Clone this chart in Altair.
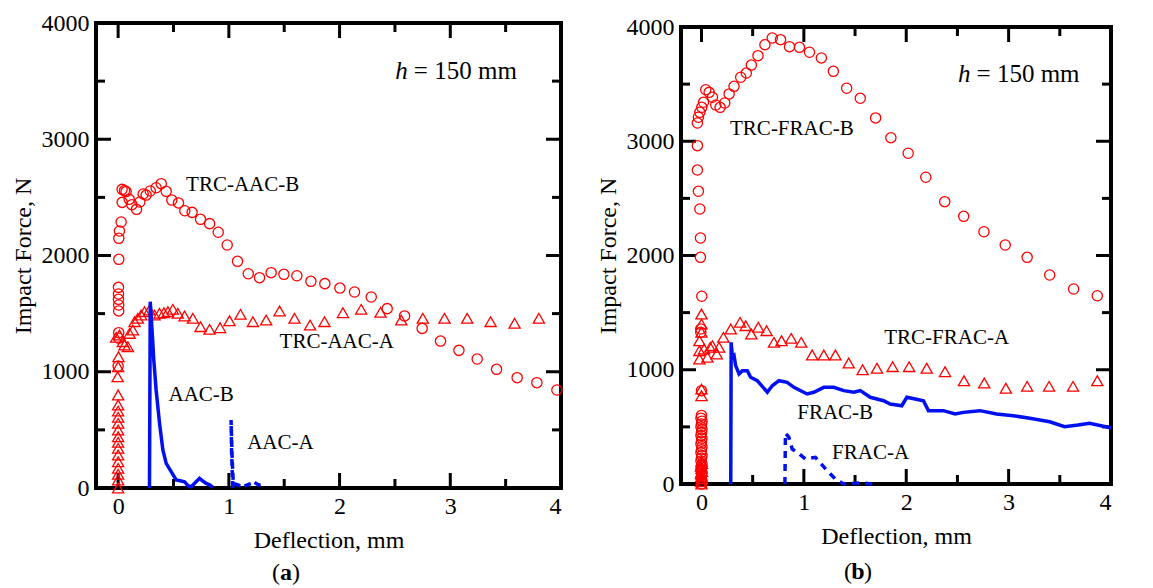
import altair as alt
import pandas as pd

FONT = "Liberation Serif"
RED = "#ff0000"
BLUE = "#0010f0"

# ---------------- Panel (a) ----------------
a_trcB_x = [0.0, 0.005, 0.005, 0.005, 0.005, 0.003, 0.003, 0.003, 0.006, 0.006, 0.012, 0.027, 0.036,
            0.036, 0.058, 0.072, 0.10, 0.124, 0.166, 0.196, 0.226, 0.253, 0.29, 0.343, 0.389, 0.434,
            0.485, 0.545, 0.602, 0.668, 0.744, 0.826, 0.904, 0.985, 1.078, 1.175, 1.277, 1.382, 1.497,
            1.614, 1.741, 1.867, 2.003, 2.135, 2.286, 2.43, 2.587, 2.746, 2.912, 3.078, 3.243, 3.418,
            3.604, 3.782, 3.963]
a_trcB_y = [1049, 1288, 1336, 1523, 1574, 1623, 1669, 1726, 1967, 2148, 2211, 2288, 2457,
            2569, 2558, 2549, 2483, 2437, 2397, 2460, 2529, 2520, 2555, 2583, 2618, 2552,
            2477, 2452, 2385, 2371, 2311, 2274, 2200, 2090, 1950, 1843, 1809, 1852, 1838,
            1826, 1778, 1758, 1720, 1686, 1643, 1543, 1480, 1373, 1264, 1184, 1110, 1021,
            949, 906, 843]

a_trcA_x = [0.0, 0.0, 0.0, 0.0, 0.0, 0.0, 0.0, 0.0, 0.0, 0.0, 0.0, 0.0, 0.0, 0.0, 0.0, -0.005, 0.0, 0.003,
            -0.018, 0.012, 0.042, 0.058, 0.088, 0.103, 0.133, 0.148, 0.178, 0.208, 0.238, 0.283, 0.329,
            0.374, 0.413, 0.449, 0.494, 0.539, 0.6, 0.675, 0.744, 0.826, 0.921, 1.006, 1.105, 1.217,
            1.337, 1.458, 1.593, 1.734, 1.864, 2.03, 2.195, 2.37, 2.557, 2.752, 2.948, 3.153, 3.364,
            3.581, 3.8]
a_trcA_y = [0, 69, 118, 169, 226, 284, 341, 393, 441, 499, 556, 608, 662, 714, 800, 957, 1043, 1129,
            1296, 1316, 1259, 1230, 1216, 1330, 1359, 1431, 1460, 1488, 1517, 1531, 1488,
            1503, 1508, 1517, 1537, 1503, 1480, 1460, 1388, 1365, 1379, 1439, 1494, 1431,
            1445, 1523, 1460, 1402, 1431, 1508, 1537, 1511, 1445, 1460, 1460, 1460, 1431,
            1417, 1460]

a_aacB_x = [0.283, 0.29, 0.31, 0.322, 0.343, 0.374, 0.404, 0.434, 0.479, 0.524, 0.56, 0.6, 0.63, 0.66,
            0.70, 0.735, 0.765, 0.795, 0.83, 0.855]
a_aacB_y = [0, 1603, 1300, 1101, 843, 556, 327, 212, 140, 69, 63, 54, 20, 11, 50, 83, 60, 40, 25, 6]

a_aacA_x = [1.035, 1.025, 1.02, 1.03, 1.04, 1.07, 1.10, 1.14, 1.19, 1.23, 1.27, 1.32]
a_aacA_y = [0, 300, 585, 250, 40, 30, 20, 15, 35, 50, 25, 35]

a_lab_text = ["TRC-AAC-B", "TRC-AAC-A", "AAC-B", "AAC-A"]
a_lab_x = [0.614, 1.458, 0.455, 1.165]
a_lab_y = [2604, 1259, 800, 384]

# ---------------- Panel (b) ----------------
b_trcB_x = [0.0, 0.005, -0.005, 0.0, 0.005, -0.005, 0.0, 0.005, -0.005, 0.0, 0.005, -0.005, 0.0,
            0.005, -0.005, 0.0, 0.005, -0.005, 0.0, 0.005, -0.005, 0.0, 0.005, -0.005, 0.0,
            0.0, -0.007, -0.007, 0.003, -0.01, -0.01, -0.016, -0.03, -0.04, -0.04, -0.04, -0.03,
            -0.016, 0.003, 0.02, 0.042, 0.075, 0.107, 0.14, 0.182, 0.227, 0.27, 0.318, 0.383,
            0.438, 0.487, 0.552, 0.62, 0.691, 0.772, 0.86, 0.957, 1.055, 1.171, 1.288, 1.418,
            1.551, 1.701, 1.85, 2.019, 2.191, 2.376, 2.561, 2.759, 2.967, 3.181, 3.401, 3.635, 3.866]
b_trcB_y = [0, 24, 50, 76, 98, 126, 150, 174, 202, 226, 250, 276, 300,
            326, 350, 374, 400, 424, 450, 476, 500, 526, 550, 576, 600,
            817, 1328, 1357, 1643, 1984, 2153, 2407, 2562, 2748, 2961, 3160, 3210,
            3253, 3297, 3341, 3451, 3428, 3385, 3317, 3297, 3335, 3414, 3481, 3560,
            3597, 3667, 3749, 3845, 3904, 3889, 3828, 3822, 3779, 3729, 3612, 3464,
            3376, 3204, 3031, 2895, 2685, 2471, 2343, 2208, 2092, 1984, 1829, 1707, 1648]

b_trcA_x = [0.0, -0.005, 0.005, 0.0, -0.005, 0.005, 0.0, -0.005, 0.005, 0.0, 0.0, 0.0,
            -0.02, -0.02, -0.02, 0.0, 0.0, 0.0, 0.026, 0.058, 0.085, 0.107, 0.149, 0.172, 0.214,
            0.286, 0.377, 0.432, 0.487, 0.555, 0.636, 0.708, 0.782, 0.876, 0.974, 1.081, 1.195,
            1.308, 1.438, 1.574, 1.714, 1.867, 2.028, 2.2, 2.379, 2.564, 2.762, 2.973, 3.181,
            3.395, 3.629, 3.866]
b_trcA_y = [0, 20, 45, 65, 90, 110, 135, 155, 180, 200, 773, 831,
            1094, 1167, 1254, 1328, 1400, 1488, 1182, 1109, 1196, 1211, 1138, 1196, 1284,
            1357, 1415, 1386, 1313, 1372, 1342, 1240, 1254, 1275, 1240, 1129, 1129,
            1129, 1059, 1000, 1013, 1027, 1027, 1013, 983, 904, 884, 838, 855,
            855, 855, 904]

b_fracB_x = [0.286, 0.29, 0.302, 0.318, 0.334, 0.367, 0.399, 0.448, 0.48, 0.545, 0.643, 0.691,
             0.757, 0.837, 0.903, 1.032, 1.097, 1.195, 1.292, 1.39, 1.487, 1.551, 1.649, 1.779,
             1.843, 1.957, 2.006, 2.087, 2.168, 2.217, 2.363, 2.477, 2.558, 2.72, 2.882, 3.045,
             3.207, 3.401, 3.547, 3.678, 3.791, 3.97, 4.0]
b_fracB_y = [0, 1240, 1109, 1123, 1036, 963, 992, 992, 934, 904, 803, 860,
             904, 890, 846, 788, 803, 846, 846, 817, 803, 817, 759, 729,
             700, 685, 759, 744, 729, 642, 642, 613, 627, 642, 613, 598,
             575, 545, 502, 516, 531, 496, 490]

b_fracA_x = [0.815, 0.82, 0.854, 0.886, 0.935, 1.016, 1.113, 1.227, 1.308, 1.39, 1.551, 1.68]
b_fracA_y = [0, 446, 409, 306, 277, 219, 233, 117, 44, 0, 9, 0]

b_lab_text = ["TRC-FRAC-B", "TRC-FRAC-A", "FRAC-B", "FRAC-A"]
b_lab_x = [0.279, 1.785, 0.935, 1.276]
b_lab_y = [3107, 1275, 621, 271]

x_major = [0, 1, 2, 3, 4]
x_minor = [0.5, 1.5, 2.5, 3.5]
y_major = [0, 1000, 2000, 3000, 4000]
y_minor = [500, 1500, 2500, 3500]

BLACK = alt.value("black")
FRAME_W = alt.value(4)
TICK_W = alt.value(3)


def panel(W, H, trcB, trcA, solid, dashed, labels, hx, cap_letter, cap_x, cap_y, dash):
    xs = alt.Scale(domain=[-0.2, 4], nice=False, zero=False)
    ys = alt.Scale(domain=[0, 4000], nice=False, zero=False)
    xaxis = alt.Axis(values=x_major, ticks=False, domain=False, grid=False, format="d",
                     labelFont=FONT, labelFontSize=24, labelColor="black", labelPadding=6,
                     title="Deflection, mm", titleFont=FONT, titleFontSize=24,
                     titleFontWeight="normal", titleColor="black", titleY=52,
                     titleBaseline="middle")
    yaxis = alt.Axis(values=y_major, ticks=False, domain=False, grid=False, format="d",
                     labelFont=FONT, labelFontSize=24, labelColor="black", labelPadding=7,
                     title="Impact Force, N", titleFont=FONT, titleFontSize=24,
                     titleFontWeight="normal", titleColor="black", titleX=-73,
                     titleY=H / 2, titleAngle=-90, titleBaseline="middle", titleAlign="center")

    def X(f):
        return alt.X(f, type="quantitative", scale=xs, axis=xaxis)

    def Y(f):
        return alt.Y(f, type="quantitative", scale=ys, axis=yaxis)

    layers = []
    one = pd.DataFrame({"k": [0]})
    # frame
    layers.append(alt.Chart(one).mark_rule(strokeCap="square").encode(
        x=alt.value(0), x2=alt.value(W), y=alt.value(0), color=BLACK, strokeWidth=FRAME_W))
    layers.append(alt.Chart(one).mark_rule(strokeCap="square").encode(
        x=alt.value(0), x2=alt.value(W), y=alt.value(H), color=BLACK, strokeWidth=FRAME_W))
    layers.append(alt.Chart(one).mark_rule(strokeCap="square").encode(
        y=alt.value(0), y2=alt.value(H), x=alt.value(0), color=BLACK, strokeWidth=FRAME_W))
    layers.append(alt.Chart(one).mark_rule(strokeCap="square").encode(
        y=alt.value(0), y2=alt.value(H), x=alt.value(W), color=BLACK, strokeWidth=FRAME_W))
    # ticks (inward, on all four sides)
    for vals, L in ((x_major, 15), (x_minor, 9)):
        d = pd.DataFrame({"v": vals})
        layers.append(alt.Chart(d).mark_rule().encode(
            x=X("v"), y=alt.value(H), y2=alt.value(H - L), color=BLACK, strokeWidth=TICK_W))
        layers.append(alt.Chart(d).mark_rule().encode(
            x=X("v"), y=alt.value(0), y2=alt.value(L), color=BLACK, strokeWidth=TICK_W))
    for vals, L in ((y_major, 15), (y_minor, 9)):
        d = pd.DataFrame({"v": vals})
        layers.append(alt.Chart(d).mark_rule().encode(
            y=Y("v"), x=alt.value(0), x2=alt.value(L), color=BLACK, strokeWidth=TICK_W))
        layers.append(alt.Chart(d).mark_rule().encode(
            y=Y("v"), x=alt.value(W), x2=alt.value(W - L), color=BLACK, strokeWidth=TICK_W))

    dB = pd.DataFrame({"x": trcB[0], "y": trcB[1]})
    layers.append(alt.Chart(dB).mark_point(shape="circle", filled=False, size=105,
                                           opacity=1).encode(
        x=X("x"), y=Y("y"), color=alt.value(RED), strokeWidth=alt.value(1.3)))
    dA = pd.DataFrame({"x": trcA[0], "y": trcA[1]})
    layers.append(alt.Chart(dA).mark_point(shape="triangle-up", filled=False, size=125,
                                           opacity=1).encode(
        x=X("x"), y=Y("y"), color=alt.value(RED), strokeWidth=alt.value(1.3)))
    dS = pd.DataFrame({"x": solid[0], "y": solid[1], "i": range(len(solid[0]))})
    layers.append(alt.Chart(dS).mark_line().encode(
        x=X("x"), y=Y("y"), order=alt.Order("i:Q"), color=alt.value(BLUE),
        strokeWidth=alt.value(3.5)))
    dD = pd.DataFrame({"x": dashed[0], "y": dashed[1], "i": range(len(dashed[0]))})
    layers.append(alt.Chart(dD).mark_line(strokeDash=dash).encode(
        x=X("x"), y=Y("y"), order=alt.Order("i:Q"), color=alt.value(BLUE),
        strokeWidth=alt.value(3.5)))

    dL = pd.DataFrame({"t": labels[0], "x": labels[1], "y": labels[2]})
    layers.append(alt.Chart(dL).mark_text(align="left", baseline="middle", font=FONT,
                                          fontSize=21, color="black").encode(
        x=X("x"), y=Y("y"), text="t:N"))

    dH = pd.DataFrame({"x": [hx], "y": [3590], "h": ["h"], "r": ["= 150 mm"]})
    layers.append(alt.Chart(dH).mark_text(align="right", baseline="middle", font=FONT,
                                          fontSize=25, fontStyle="italic", dx=-6,
                                          color="black").encode(
        x=X("x"), y=Y("y"), text="h:N"))
    layers.append(alt.Chart(dH).mark_text(align="left", baseline="middle", font=FONT,
                                          fontSize=25, color="black").encode(
        x=X("x"), y=Y("y"), text="r:N"))

    dC = pd.DataFrame({"o": ["("], "l": [cap_letter], "c": [")"]})
    layers.append(alt.Chart(dC).mark_text(align="right", baseline="middle", font=FONT,
                                          fontSize=24, color="black").encode(
        x=alt.value(cap_x - 6), y=alt.value(cap_y), text="o:N"))
    layers.append(alt.Chart(dC).mark_text(align="center", baseline="middle", font=FONT,
                                          fontSize=24, fontWeight="bold", color="black").encode(
        x=alt.value(cap_x), y=alt.value(cap_y), text="l:N"))
    layers.append(alt.Chart(dC).mark_text(align="left", baseline="middle", font=FONT,
                                          fontSize=24, color="black").encode(
        x=alt.value(cap_x + 6), y=alt.value(cap_y), text="c:N"))

    return alt.layer(*layers).properties(width=W, height=H)


pa = panel(465, 465, (a_trcB_x, a_trcB_y), (a_trcA_x, a_trcA_y), (a_aacB_x, a_aacB_y),
           (a_aacA_x, a_aacA_y), (a_lab_text, a_lab_x, a_lab_y), 2.671, "a", 190, 550, [7, 4])
pb = panel(430, 457, (b_trcB_x, b_trcB_y), (b_trcA_x, b_trcA_y), (b_fracB_x, b_fracB_y),
           (b_fracA_x, b_fracA_y), (b_lab_text, b_lab_x, b_lab_y), 2.687, "b", 177, 545, [7, 6])

chart = alt.hconcat(pa, pb, spacing=120, bounds="flush", center=True).properties(
    padding={"left": 11, "top": 11, "right": 5, "bottom": 0}
).configure(
    background="white", font=FONT
).configure_view(
    stroke=None
).configure_axis(
    labelFont=FONT, titleFont=FONT
)

chart.save("out.html", embed_options={"renderer": "svg", "actions": False})
